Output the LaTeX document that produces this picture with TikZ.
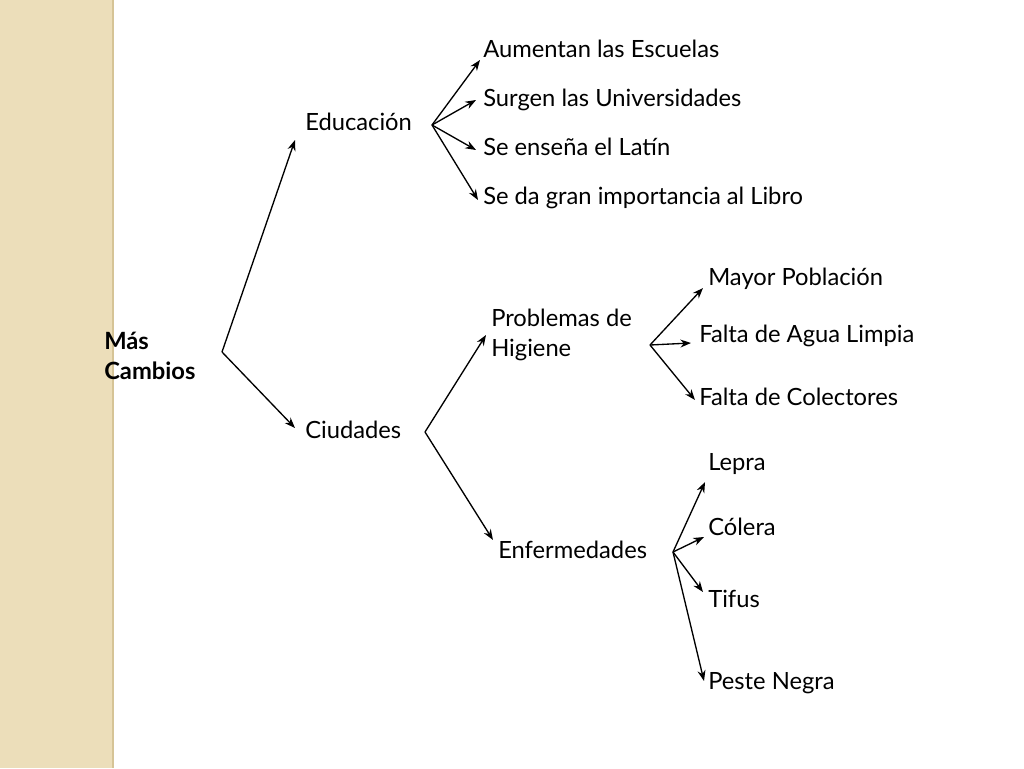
\documentclass[tikz,border=0pt]{standalone}
\usepackage{fontspec}
\setmainfont{Lato}
\usetikzlibrary{arrows.meta}
\definecolor{strip}{RGB}{236,222,186}
\definecolor{stripline}{RGB}{214,196,150}
\begin{document}
\begin{tikzpicture}[x=0.75pt,y=-0.75pt]
\tikzset{ >={Stealth[length=8pt,width=6pt]}, txt/.style={anchor=base west, inner sep=0pt, font=\fontsize{17.8}{22.5}\selectfont}, arr/.style={->, line width=1pt} }
\useasboundingbox (0,0) rectangle (1024,768);
\fill [strip] (0,0) rectangle (113,768);
\draw [stripline, line width=1.5pt] (113,0) -- (113,768);

% texts
\node [txt, font=\bfseries\fontsize{17.8}{22.5}\selectfont, align=left] (MC) at (104,379) {Más\\Cambios};
\node [txt] (EDU) at (305,130) {Educación};
\node [txt] (CIU) at (305,438) {Ciudades};
\node [txt] (E1) at (483,57) {Aumentan las Escuelas};
\node [txt] (E2) at (483,106) {Surgen las Universidades};
\node [txt] (E3) at (483,155) {Se enseña el Latín};
\node [txt] (E4) at (483,204) {Se da gran importancia al Libro};
\node [txt, align=left] (PH) at (491,356) {Problemas de\\Higiene};
\node [txt] (ENF) at (498,558) {Enfermedades};
\node [txt] (P1) at (708,285) {Mayor Población};
\node [txt] (P2) at (699,342) {Falta de Agua Limpia};
\node [txt] (P3) at (699,405) {Falta de Colectores};
\node [txt] (D1) at (708,470) {Lepra};
\node [txt] (D2) at (708,535) {Cólera};
\node [txt] (D3) at (708,607) {Tifus};
\node [txt] (D4) at (708,689) {Peste Negra};

% forks and tips
\coordinate (fMC) at (222,352);
\coordinate (tEDU) at (295,140);
\coordinate (tCIU) at (295,428);
\coordinate (fEDU) at (432,125);
\coordinate (fCIU) at (425,432);
\coordinate (fPH) at (650,345);
\coordinate (fENF) at (673,552);

\draw [arr] (fMC) -- (tEDU);
\draw [arr] (fMC) -- (tCIU);

\draw [arr] (fEDU) -- (480,60);
\draw [arr] (fEDU) -- (476,100);
\draw [arr] (fEDU) -- (476,150);
\draw [arr] (fEDU) -- (478,200);

\draw [arr] (fCIU) -- (486,335);
\draw [arr] (fCIU) -- (493,540);

\draw [arr] (fPH) -- (703,288);
\draw [arr] (fPH) -- (691,343);
\draw [arr] (fPH) -- (695,400);

\draw [arr] (fENF) -- (705,482);
\draw [arr] (fENF) -- (704,537);
\draw [arr] (fENF) -- (703,592);
\draw [arr] (fENF) -- (704,681);
\end{tikzpicture}
\end{document}
